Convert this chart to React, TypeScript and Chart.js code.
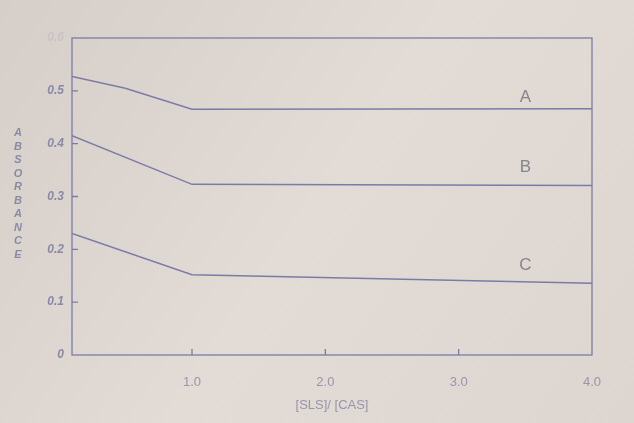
import React, { useEffect, useRef } from "react";
import { Chart, registerables } from "chart.js";

Chart.register(...registerables);

// ---- data ----
const seriesNames = ["A", "B", "C"];
const xA = [0.1, 0.5, 1.0, 4.0];
const yA = [0.527, 0.505, 0.465, 0.466];
const xB = [0.1, 1.0, 4.0];
const yB = [0.415, 0.323, 0.321];
const xC = [0.1, 1.0, 4.0];
const yC = [0.23, 0.152, 0.136];
const labelX = [3.5, 3.5, 3.5];
const labelY = [0.487, 0.355, 0.17];
const xTickValues = [1.0, 2.0, 3.0, 4.0];
const yTickValues = [0, 0.1, 0.2, 0.3, 0.4, 0.5, 0.6];
const xMarkValues = [1.0, 2.0, 3.0];
const yMarkValues = [0.1, 0.2, 0.3, 0.4, 0.5];
const yTitle = "ABSORBANCE";
const xTitle = "[SLS]/ [CAS]";

const LINE = "#7b7ca6";
const TEXT = "#8a8aa6";
const FONT = "'Liberation Sans', Arial, sans-serif";

const toPoints = (xs: number[], ys: number[]) => xs.map((x, i) => ({ x, y: ys[i] }));

export default function App() {
  const ref = useRef<HTMLCanvasElement | null>(null);

  useEffect(() => {
    if (!ref.current) return;
    const decor = {
      id: "decor",
      beforeDraw(chart: any) {
        const { ctx, width, height } = chart;
        ctx.save();
        const g = ctx.createLinearGradient(0, 0, width, height);
        g.addColorStop(0, "#d6cec8");
        g.addColorStop(0.5, "#e2dbd6");
        g.addColorStop(1, "#ddd5d0");
        ctx.fillStyle = g;
        ctx.fillRect(0, 0, width, height);
        ctx.restore();
      },
      afterDraw(chart: any) {
        const { ctx, chartArea: a, scales } = chart;
        ctx.save();
        ctx.strokeStyle = LINE;
        ctx.lineWidth = 1.3;
        ctx.strokeRect(a.left, a.top, a.right - a.left, a.bottom - a.top);
        // inward tick marks
        ctx.beginPath();
        xMarkValues.forEach((v) => {
          const px = scales.x.getPixelForValue(v);
          ctx.moveTo(px, a.bottom);
          ctx.lineTo(px, a.bottom - 6);
        });
        yMarkValues.forEach((v) => {
          const py = scales.y.getPixelForValue(v);
          ctx.moveTo(a.left, py);
          ctx.lineTo(a.left + 6, py);
        });
        ctx.stroke();
        // stacked y title
        ctx.fillStyle = TEXT;
        ctx.font = `italic bold 11px ${FONT}`;
        ctx.textAlign = "center";
        ctx.textBaseline = "middle";
        yTitle.split("").forEach((ch, i) => {
          ctx.fillText(ch, 18, 133 + i * 13.5);
        });
        // series labels
        ctx.fillStyle = "#85858e";
        ctx.font = `17px ${FONT}`;
        seriesNames.forEach((n, i) => {
          ctx.fillText(n, scales.x.getPixelForValue(labelX[i]), scales.y.getPixelForValue(labelY[i]));
        });
        ctx.restore();
      },
    };

    const ds = (data: any[]) => ({
      data,
      borderColor: LINE,
      borderWidth: 1.5,
      pointRadius: 0,
      fill: false,
      tension: 0,
    });

    const chart = new Chart(ref.current, {
      type: "line",
      data: {
        datasets: [ds(toPoints(xA, yA)), ds(toPoints(xB, yB)), ds(toPoints(xC, yC))],
      },
      options: {
        animation: false,
        responsive: false,
        layout: { padding: { top: 38, right: 42, left: 0, bottom: 0 } },
        plugins: { legend: { display: false }, tooltip: { enabled: false } },
        scales: {
          x: {
            type: "linear",
            min: 0.1,
            max: 4.0,
            border: { display: false },
            grid: { display: false, drawTicks: false },
            afterBuildTicks: (s: any) => {
              s.ticks = xTickValues.map((v) => ({ value: v }));
            },
            afterFit: (s: any) => {
              s.height = 68;
            },
            ticks: {
              color: "#9896ab",
              padding: 20,
              maxRotation: 0,
              font: { family: FONT, size: 13 },
              callback: (v: any) => Number(v).toFixed(1),
            },
            title: {
              display: true,
              text: xTitle,
              color: "#9896ab",
              font: { family: FONT, size: 13 },
              padding: { top: 0, bottom: 10 },
            },
          },
          y: {
            type: "linear",
            min: 0,
            max: 0.6,
            border: { display: false },
            grid: { display: false, drawTicks: false },
            afterBuildTicks: (s: any) => {
              s.ticks = yTickValues.map((v) => ({ value: v }));
            },
            afterFit: (s: any) => {
              s.width = 72;
            },
            ticks: {
              padding: 8,
              color: (c: any) => (c.tick && c.tick.value >= 0.6 ? "rgba(160,160,180,0.25)" : TEXT),
              font: { family: FONT, size: 12, style: "italic", weight: "bold" },
              callback: (v: any) => (Number(v) === 0 ? "0" : Number(v).toFixed(1)),
            },
          },
        },
      },
      plugins: [decor],
    } as any);
    return () => chart.destroy();
  }, []);

  return (
    <div style={{ position: "fixed", left: 0, top: 0, width: 634, height: 423 }}>
      <canvas ref={ref} width={634} height={423} style={{ display: "block" }} />
    </div>
  );
}
